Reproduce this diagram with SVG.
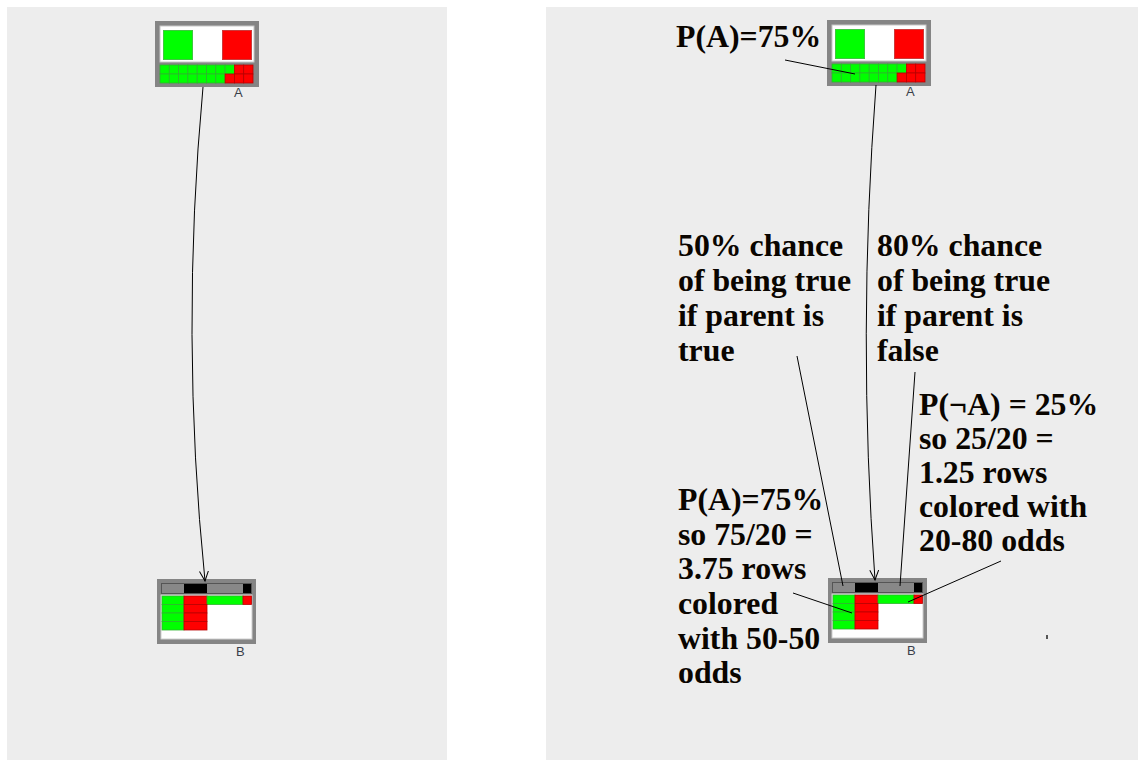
<svg xmlns="http://www.w3.org/2000/svg" xmlns:xlink="http://www.w3.org/1999/xlink" width="1138" height="760" viewBox="0 0 1138 760">
  <style>
    .panel { fill: #ededed; }
    .frame { fill: #858585; }
    .g { fill: #00ff00; stroke: #2fb52f; stroke-width: 0.8; }
    .r { fill: #ff0000; stroke: #b80000; stroke-width: 0.8; }
    .lbl { font-family: "Liberation Sans", Arial, sans-serif; font-size: 13px; fill: #3a3f4a; }
    .note { font-family: "Liberation Serif", "Times New Roman", serif; font-weight: bold; font-size: 31.8px; fill: #0a0500; }
    .edge { fill: none; stroke: #000; stroke-width: 1; }
    .pointer { fill: none; stroke: #000; stroke-width: 1; }
  </style>
  <defs>
    <marker id="arrow" markerUnits="userSpaceOnUse" markerWidth="12" markerHeight="12" refX="10" refY="5" orient="auto">
      <path d="M0,0.5 L10,5 L0,9.5" fill="none" stroke="#000" stroke-width="1"/>
    </marker>
    <!-- node with a single probability: big squares over a 2x10 grid -->
    <g id="probNode">
      <rect class="frame" x="0" y="0" width="104" height="66"/>
      <rect x="5" y="5" width="94" height="36" fill="#fff" stroke="#c8c8c8" stroke-width="1"/>
      <rect x="8.5" y="9.5" width="29" height="29" fill="#00ff00" stroke="#3fc83f"/>
      <rect x="67.5" y="9.5" width="29" height="29" fill="#ff0000" stroke="#cc3a3a"/>
      <g>
        <rect class="g" x="5" y="44" width="9.3" height="9"/>
        <rect class="g" x="14.3" y="44" width="9.3" height="9"/>
        <rect class="g" x="23.6" y="44" width="9.3" height="9"/>
        <rect class="g" x="32.9" y="44" width="9.3" height="9"/>
        <rect class="g" x="42.2" y="44" width="9.3" height="9"/>
        <rect class="g" x="51.5" y="44" width="9.3" height="9"/>
        <rect class="g" x="60.8" y="44" width="9.3" height="9"/>
        <rect class="g" x="70.1" y="44" width="9.3" height="9"/>
        <rect class="r" x="79.4" y="44" width="9.3" height="9"/>
        <rect class="r" x="88.7" y="44" width="9.3" height="9"/>
        <rect class="g" x="5" y="53" width="9.3" height="9"/>
        <rect class="g" x="14.3" y="53" width="9.3" height="9"/>
        <rect class="g" x="23.6" y="53" width="9.3" height="9"/>
        <rect class="g" x="32.9" y="53" width="9.3" height="9"/>
        <rect class="g" x="42.2" y="53" width="9.3" height="9"/>
        <rect class="g" x="51.5" y="53" width="9.3" height="9"/>
        <rect class="g" x="60.8" y="53" width="9.3" height="9"/>
        <rect class="r" x="70.1" y="53" width="9.3" height="9"/>
        <rect class="r" x="79.4" y="53" width="9.3" height="9"/>
        <rect class="r" x="88.7" y="53" width="9.3" height="9"/>
      </g>
    </g>
    <!-- node with a conditional table: header row plus coloured rows -->
    <g id="condNode">
      <rect class="frame" x="0" y="0" width="99" height="65"/>
      <rect x="4" y="4" width="91" height="11" fill="#555"/>
      <rect x="5" y="5" width="22" height="9" fill="#888"/>
      <rect x="27" y="5" width="23" height="9" fill="#000"/>
      <rect x="50" y="5" width="36" height="9" fill="#888"/>
      <rect x="86" y="5" width="8" height="9" fill="#000"/>
      <rect x="4" y="16" width="91" height="44" fill="#fff" stroke="#cfcfcf" stroke-width="1"/>
      <rect class="g" x="5" y="17" width="22" height="8.5"/>
      <rect class="r" x="27" y="17" width="23" height="8.5"/>
      <rect class="g" x="50" y="17" width="36" height="8.5"/>
      <rect class="r" x="86" y="17" width="8.5" height="8.5"/>
      <rect class="g" x="5" y="25.5" width="22" height="8.5"/>
      <rect class="r" x="27" y="25.5" width="23" height="8.5"/>
      <rect class="g" x="5" y="34" width="22" height="8.5"/>
      <rect class="r" x="27" y="34" width="23" height="8.5"/>
      <rect class="g" x="5" y="42.5" width="22" height="8.5"/>
      <rect class="r" x="27" y="42.5" width="23" height="8.5"/>
    </g>
  </defs>

  <!-- two canvases side by side -->
  <rect class="panel" x="7" y="7" width="440" height="753"/>
  <rect class="panel" x="546" y="7" width="592" height="753"/>
  <rect x="1046" y="635" width="2" height="4" fill="#555"/>

  <!-- left canvas nodes -->
  <g id="nodeA-left" transform="translate(155,21)">
    <use xlink:href="#probNode"/>
    <text class="lbl" x="79" y="76">A</text>
  </g>
  <g id="nodeB-left" transform="translate(157,579)">
    <use xlink:href="#condNode"/>
    <text class="lbl" x="79" y="77">B</text>
  </g>

  <!-- right canvas nodes -->
  <g id="nodeA-right" transform="translate(827,20)">
    <use xlink:href="#probNode"/>
    <text class="lbl" x="79" y="76">A</text>
  </g>
  <g id="nodeB-right" transform="translate(828,578)">
    <use xlink:href="#condNode"/>
    <text class="lbl" x="79" y="77">B</text>
  </g>

  <!-- edges and annotation pointers, drawn over the nodes -->
  <g id="connectors">
    <path class="edge" d="M203,87 Q180,335 205,581" marker-end="url(#arrow)"/>
    <path class="edge" d="M876,85 Q857,335 875,580" marker-end="url(#arrow)"/>
    <line class="pointer" x1="785" y1="60" x2="855" y2="74"/>
    <line class="pointer" x1="797" y1="356" x2="843" y2="586"/>
    <line class="pointer" x1="915" y1="372" x2="900" y2="586"/>
    <line class="pointer" x1="793" y1="593" x2="852" y2="613"/>
    <line class="pointer" x1="1001" y1="561" x2="908" y2="602"/>
  </g>

  <!-- annotations -->
  <g id="annotations">
    <text class="note" x="676" y="47">P(A)=75%</text>
    <text class="note">
      <tspan x="678" y="256">50% chance</tspan>
      <tspan x="678" y="291">of being true</tspan>
      <tspan x="678" y="326">if parent is</tspan>
      <tspan x="678" y="361">true</tspan>
    </text>
    <text class="note">
      <tspan x="877" y="256">80% chance</tspan>
      <tspan x="877" y="291">of being true</tspan>
      <tspan x="877" y="326">if parent is</tspan>
      <tspan x="877" y="361">false</tspan>
    </text>
    <text class="note">
      <tspan x="919" y="415">P(¬A) = 25%</tspan>
      <tspan x="919" y="449">so 25/20 =</tspan>
      <tspan x="919" y="483">1.25 rows</tspan>
      <tspan x="919" y="517">colored with</tspan>
      <tspan x="919" y="551">20-80 odds</tspan>
    </text>
    <text class="note">
      <tspan x="678" y="510">P(A)=75%</tspan>
      <tspan x="678" y="545">so 75/20 =</tspan>
      <tspan x="678" y="579">3.75 rows</tspan>
      <tspan x="678" y="614">colored</tspan>
      <tspan x="678" y="649">with 50-50</tspan>
      <tspan x="678" y="683">odds</tspan>
    </text>
  </g>
</svg>
